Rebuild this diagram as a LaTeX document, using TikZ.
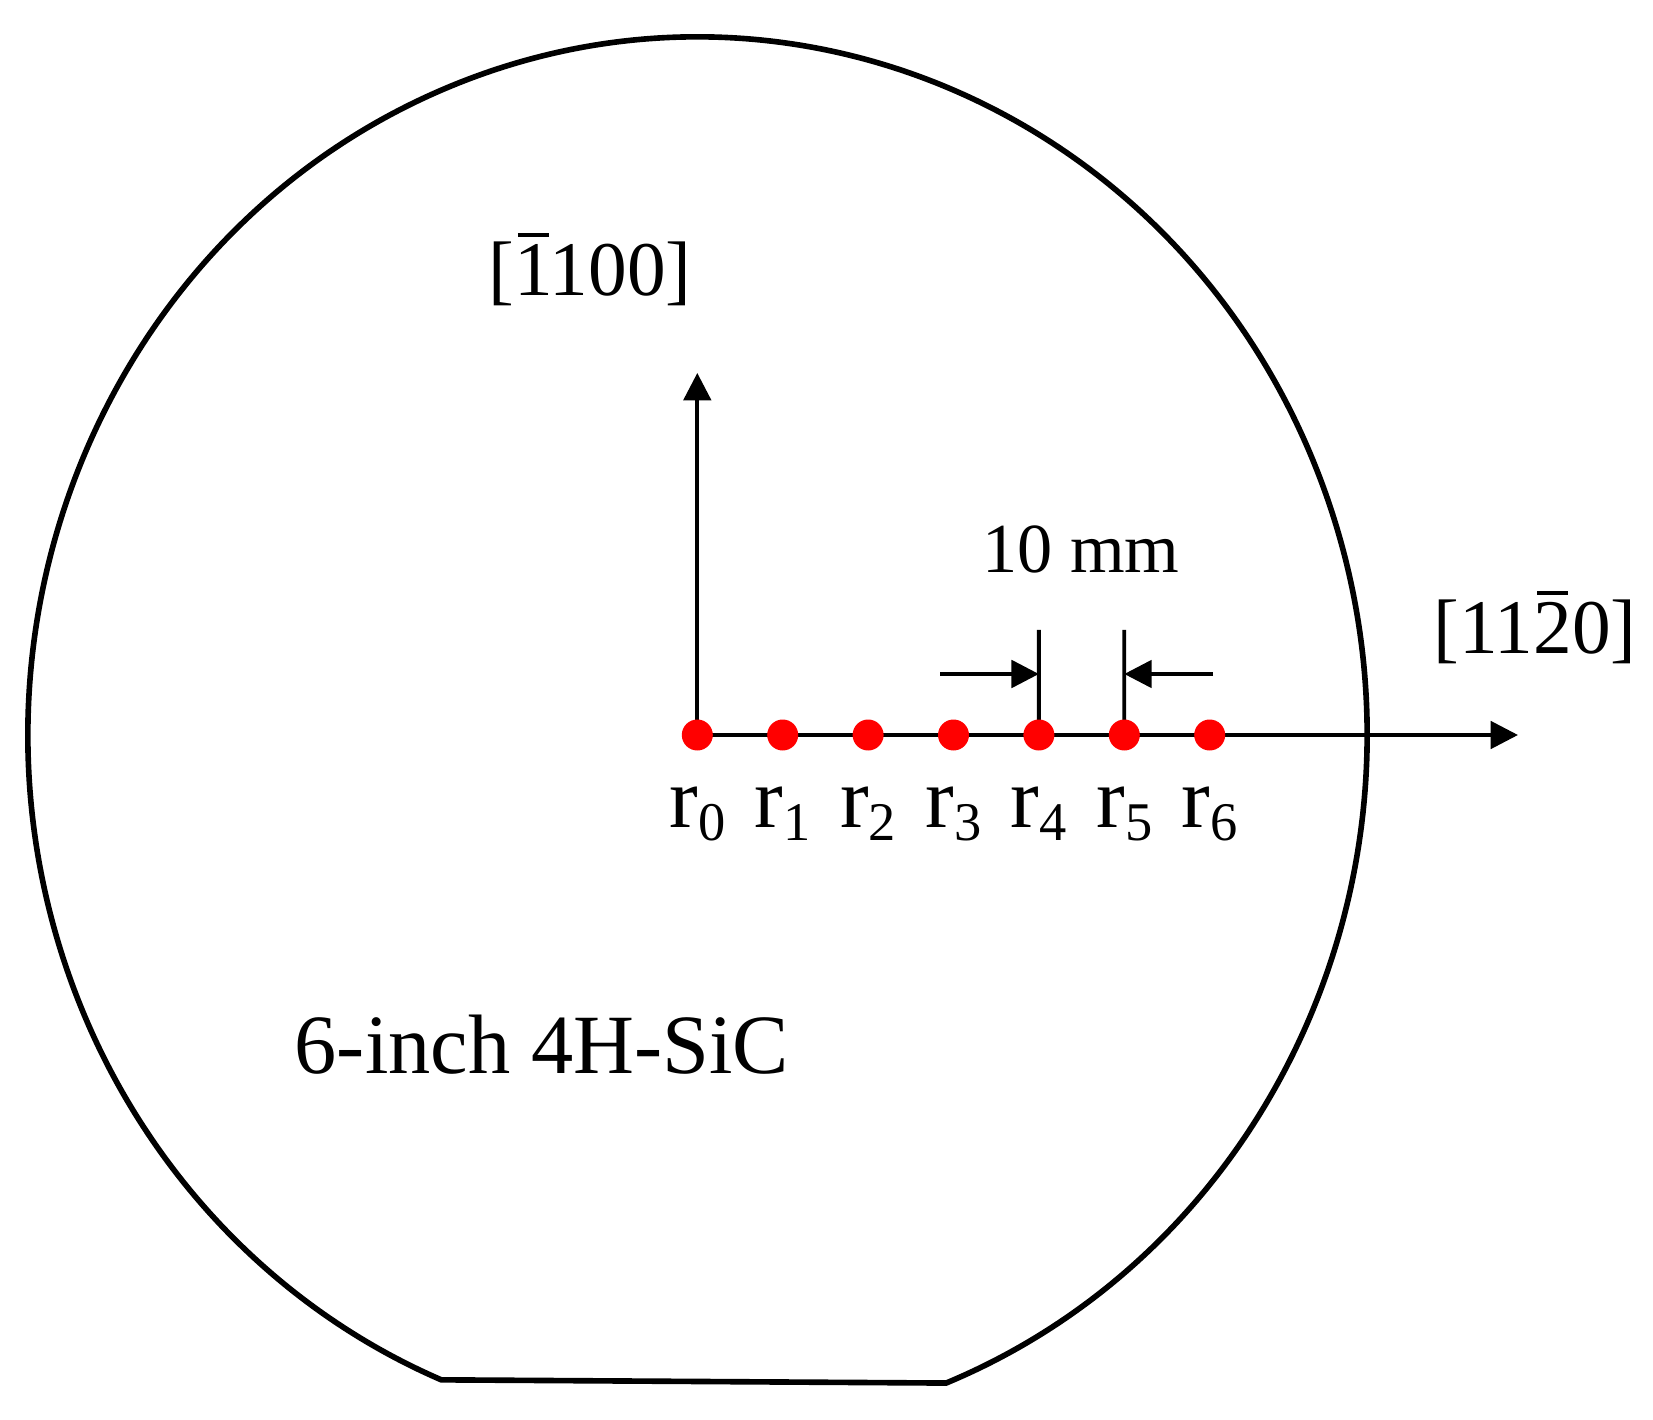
\documentclass[tikz,border=0pt]{standalone}
\usepackage{fontspec}
\setmainfont{Liberation Serif}
\usetikzlibrary{arrows.meta}
\newcommand{\barred}[1]{\makebox[0pt][l]{\hspace{0.05em}\rule[0.75em]{0.4em}{1.3pt}}#1}
\newcommand{\rsub}[1]{r\raisebox{-3.7pt}{\fontsize{15.5}{16}\selectfont #1}}

\begin{document}
\begin{tikzpicture}[
  tip/.style={-{Triangle[length=7.8pt,width=7.8pt]}},
  axis/.style={line width=1.1pt,tip},
  tick/.style={line width=1.1pt},
  dot/.style={circle,fill=red,inner sep=0pt,minimum size=3.1mm}]
\useasboundingbox (0,0) rectangle (16.53,14.19);

% wafer with flat
\draw[line width=1.6pt] (6.975,6.84) ++(-68.2:6.695cm and 6.98cm)
  arc[start angle=-68.2,end angle=247.5,x radius=6.695cm,y radius=6.98cm] -- cycle;

\foreach \i in {0,...,6}
\coordinate (r\i) at ({6.973+0.854*\i},6.84);

\coordinate (xend) at (15.18,6.84);
\coordinate (yend) at (6.973,10.46);

% bemassung
\coordinate (t4) at (10.389,7.89);
\coordinate (t5) at (11.243,7.89);
\coordinate (a4) at (9.40,7.45);
\coordinate (h4) at (10.389,7.45);
\coordinate (a5) at (12.13,7.45);
\coordinate (h5) at (11.243,7.45);

\draw[axis] (r0)--(xend);
\draw[axis] (r0)--(yend);
\draw[tick] (r4)--(t4);
\draw[tick] (r5)--(t5);
\draw[axis] (a4)--(h4);
\draw[axis] (a5)--(h5);

\node[font=\fontsize{22}{26}\selectfont,inner sep=0] (dy) at (5.90,11.50) {[\barred{1}100]};
\node[font=\fontsize{22}{26}\selectfont,inner sep=0] (dx) at (15.35,7.92) {[11\barred{2}0]};
\node[anchor=base,font=\fontsize{20}{24}\selectfont] (gap) at (10.81,8.46) {10 mm};
\node[anchor=base,font=\fontsize{24}{28}\selectfont] (wafer) at (5.42,3.46) {6-inch 4H-SiC};

\foreach \i in {0,...,6}
\node[dot] (d\i) at (r\i) {};
\foreach \i in {0,...,6}
\node[anchor=base,yshift=-0.92cm,font=\fontsize{24.5}{28}\selectfont,inner sep=0] (l\i) at (r\i) {\rsub{\i}};
\end{tikzpicture}
\end{document}
